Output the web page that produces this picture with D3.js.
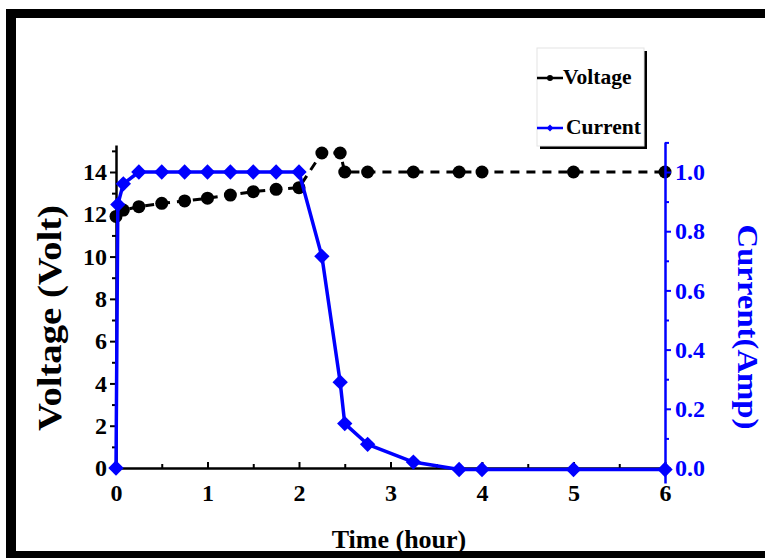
<!DOCTYPE html>
<html>
<head>
<meta charset="utf-8">
<script src="https://cdn.jsdelivr.net/npm/d3@7"></script>
<style>
  html, body { margin: 0; padding: 0; background: #fff; }
  svg { display: block; }
  text { font-family: "Liberation Serif", "DejaVu Serif", serif; font-weight: bold; }
</style>
</head>
<body>
<svg id="chart" width="765" height="558"></svg>
<script>
// ---- data ----
const voltageTime = [0, 0.08, 0.25, 0.5, 0.75, 1.0, 1.25, 1.5, 1.75, 2.0, 2.25, 2.45, 2.5, 2.75, 3.25, 3.75, 4.0, 5.0, 6.0];
const voltageValues = [11.9, 12.2, 12.36, 12.52, 12.63, 12.76, 12.91, 13.07, 13.18, 13.26, 14.9, 14.9, 14.0, 14.0, 14.0, 14.0, 14.0, 14.0, 14.0];
const currentTime = [0, 0.02, 0.08, 0.25, 0.5, 0.75, 1.0, 1.25, 1.5, 1.75, 2.0, 2.25, 2.45, 2.5, 2.75, 3.25, 3.75, 4.0, 5.0, 6.0];
const currentValues = [0, 0.89, 0.96, 1.0, 1.0, 1.0, 1.0, 1.0, 1.0, 1.0, 1.0, 0.715, 0.29, 0.15, 0.08, 0.02, -0.005, -0.005, -0.005, -0.005];
const xTicks = [0, 1, 2, 3, 4, 5, 6];
const xMinorTicks = [0.5, 1.5, 2.5, 3.5, 4.5, 5.5];
const voltTicks = [0, 2, 4, 6, 8, 10, 12, 14];
const voltMinorTicks = [1, 3, 5, 7, 9, 11, 13, 15];
const currTicks = [0, 0.2, 0.4, 0.6, 0.8, 1.0];
const currMinorTicks = [0.1, 0.3, 0.5, 0.7, 0.9, 1.1];
const seriesNames = ["Voltage", "Current"];
const xTitle = "Time (hour)";
const yLeftTitle = "Voltage (Volt)";
const yRightTitle = "Current(Amp)";

const BLUE = "#0000ff";
const svg = d3.select("#chart");

// ---- frame ----
svg.append("rect").attr("x", 6).attr("y", 9).attr("width", 10).attr("height", 549).attr("fill", "#000");
svg.append("rect").attr("x", 6).attr("y", 9).attr("width", 759).attr("height", 9).attr("fill", "#000");
svg.append("rect").attr("x", 6).attr("y", 551).attr("width", 759).attr("height", 7).attr("fill", "#000");

// ---- scales ----
const x = d3.scaleLinear().domain([0, 6]).range([116, 665]);
const yV = d3.scaleLinear().domain([0, 14]).range([468, 172]);
const yI = d3.scaleLinear().domain([0, 1]).range([468, 172]);
const yVaxis = yV.copy().domain([0, yV.invert(145)]).range([468, 145]);
const yIaxis = yI.copy().domain([yI.invert(483), yI.invert(142)]).range([483, 142]);

// ---- axes ----
function styleAxis(g, color, fontSize) {
  g.selectAll("path.domain").attr("stroke", color).attr("stroke-width", 2.5);
  g.selectAll(".tick line").attr("stroke", color).attr("stroke-width", 2);
  g.selectAll(".tick text").attr("fill", color).attr("font-size", fontSize)
    .attr("font-family", "Liberation Serif").attr("font-weight", "bold");
}

// x axis (ticks inward)
const gx = svg.append("g").attr("transform", "translate(0,468)")
  .call(d3.axisBottom(x).tickValues(xTicks).tickSizeInner(-6).tickSizeOuter(0).tickPadding(16).tickFormat(d3.format("d")));
styleAxis(gx, "#000", 24);
gx.selectAll(".tick text").attr("dy", "0.71em");
const gxm = svg.append("g").attr("transform", "translate(0,468)")
  .call(d3.axisBottom(x).tickValues(xMinorTicks).tickSizeInner(-4).tickSizeOuter(0).tickFormat(""));
styleAxis(gxm, "#000", 24);
gxm.select("path.domain").remove();

// left axis
const gl = svg.append("g").attr("transform", "translate(116,0)")
  .call(d3.axisLeft(yVaxis).tickValues(voltTicks).tickSizeInner(6).tickSizeOuter(0).tickPadding(3).tickFormat(d3.format("d")));
styleAxis(gl, "#000", 24);
const glm = svg.append("g").attr("transform", "translate(116,0)")
  .call(d3.axisLeft(yVaxis).tickValues(voltMinorTicks).tickSizeInner(4).tickSizeOuter(0).tickFormat(""));
styleAxis(glm, "#000", 24);
glm.select("path.domain").remove();

// ---- series ----
const vData = voltageTime.map((t, i) => [t, voltageValues[i]]);
const iData = currentTime.map((t, i) => [t, currentValues[i]]);

const vLine = d3.line().x(d => x(d[0])).y(d => yV(d[1]));
const iLine = d3.line().x(d => x(d[0])).y(d => yI(d[1]));

svg.append("path").datum(vData).attr("d", vLine)
  .attr("fill", "none").attr("stroke", "#000").attr("stroke-width", 3)
  .attr("stroke-dasharray", "9,7");
svg.selectAll("circle.v").data(vData).enter().append("circle")
  .attr("class", "v").attr("cx", d => x(d[0])).attr("cy", d => yV(d[1])).attr("r", 6.5).attr("fill", "#000");

svg.append("path").datum(iData).attr("d", iLine)
  .attr("fill", "none").attr("stroke", BLUE).attr("stroke-width", 3.5).attr("stroke-linejoin", "round");
const diamond = d3.symbol().type(d3.symbolDiamond2).size(150);
svg.selectAll("path.i").data(iData).enter().append("path")
  .attr("class", "i").attr("d", diamond)
  .attr("transform", d => `translate(${x(d[0])},${yI(d[1])})`)
  .attr("fill", BLUE);

// right axis (blue)
const gr = svg.append("g").attr("transform", "translate(665,0)")
  .call(d3.axisRight(yIaxis).tickValues(currTicks).tickSizeInner(6).tickSizeOuter(0).tickPadding(4).tickFormat(d3.format(".1f")));
styleAxis(gr, BLUE, 24);
const grm = svg.append("g").attr("transform", "translate(665,0)")
  .call(d3.axisRight(yIaxis).tickValues(currMinorTicks).tickSizeInner(4).tickSizeOuter(0).tickFormat(""));
styleAxis(grm, BLUE, 24);
grm.select("path.domain").remove();

// ---- axis titles ----
svg.append("text").attr("x", 399).attr("y", 548).attr("text-anchor", "middle")
  .attr("font-size", 26).attr("fill", "#000").text(xTitle);
svg.append("text").attr("transform", "translate(61,318) rotate(-90)").attr("text-anchor", "middle")
  .attr("font-size", 33).attr("fill", "#000")
  .attr("textLength", 226).attr("lengthAdjust", "spacingAndGlyphs").text(yLeftTitle);
svg.append("text").attr("transform", "translate(738,327) rotate(90)").attr("text-anchor", "middle")
  .attr("font-size", 30).attr("fill", BLUE)
  .attr("textLength", 205).attr("lengthAdjust", "spacingAndGlyphs").text(yRightTitle);

// ---- legend ----
const lg = svg.append("g");
lg.append("rect").attr("x", 540).attr("y", 51).attr("width", 107).attr("height", 98).attr("fill", "#000");
lg.append("rect").attr("x", 537).attr("y", 48).attr("width", 107).attr("height", 98)
  .attr("fill", "#fff").attr("stroke", "#e4e4e4").attr("stroke-width", 1);
const legendColors = ["#000", BLUE];
const legendY = [78, 128];
seriesNames.forEach((name, i) => {
  lg.append("line").attr("x1", 537).attr("x2", 563).attr("y1", legendY[i]).attr("y2", legendY[i])
    .attr("stroke", legendColors[i]).attr("stroke-width", 2.5);
  if (i === 0) {
    lg.append("circle").attr("cx", 550).attr("cy", legendY[i]).attr("r", 3).attr("fill", "#000");
  } else {
    lg.append("path").attr("d", d3.symbol().type(d3.symbolDiamond2).size(30))
      .attr("transform", `translate(550,${legendY[i]})`).attr("fill", BLUE);
  }
  lg.append("text").attr("x", i === 0 ? 563 : 566).attr("y", legendY[i] + 6)
    .attr("font-size", 21.5).attr("fill", "#000").text(name);
});
</script>
</body>
</html>
